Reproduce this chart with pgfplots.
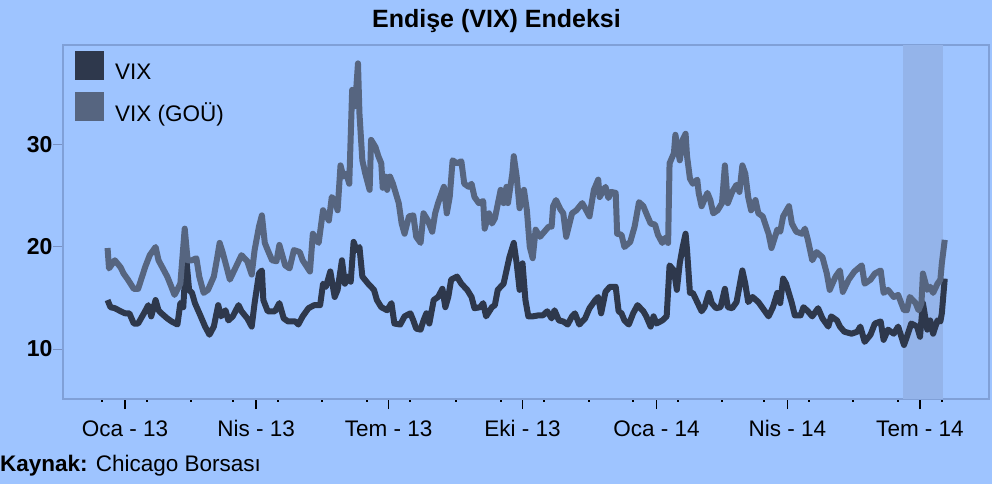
\documentclass[border=0pt]{standalone}
\usepackage{pgfplots}
\pgfplotsset{compat=1.18}
\usepackage{fontspec}
\setmainfont{Liberation Sans}
\definecolor{bgc}{RGB}{158,196,255}
\definecolor{bandc}{RGB}{148,180,234}
\definecolor{borderc}{RGB}{128,160,215}
\definecolor{ytickc}{RGB}{120,145,195}
\definecolor{vixdark}{RGB}{46,56,76}
\definecolor{vixgou}{RGB}{86,101,128}
\begin{document}
\begin{tikzpicture}
\fill[bgc] (0bp,0bp) rectangle (992bp,-484bp);
\node[anchor=base, inner sep=0pt, font=\fontsize{25bp}{29bp}\selectfont\bfseries] at (496.5bp,-27bp) {Endişe (VIX) Endeksi};
\node[anchor=base west, inner sep=0pt, font=\fontsize{22.5bp}{27bp}\selectfont] at (0bp,-471bp) {\textbf{Kaynak:}\hspace{0.36em}Chicago Borsası};
\begin{axis}[
  at={(63bp,-399bp)}, anchor=south west,
  width=926bp, height=354bp, scale only axis,
  xmin=-42.6, xmax=593.4, ymin=5.1, ymax=39.8,
  axis line style={draw=borderc, line width=1.2bp},
  tick align=outside,
  xtick={0,90,181,273,365,455,546},
  xticklabels={Oca - 13,Nis - 13,Tem - 13,Eki - 13,Oca - 14,Nis - 14,Tem - 14},
  minor xtick={-16,15,45,74,105,135,166,196,227,258,288,319,349,380,410,439,470,500,531,561},
  ytick={10,20,30},
  yticklabels={10,20,30},
  xtick pos=bottom, ytick pos=left,
  major tick length=10bp, minor tick length=2.5bp,
  every major x tick/.append style={black, line width=1.6bp},
  every minor x tick/.append style={black, line width=2bp},
  every major y tick/.append style={ytickc, line width=1bp},
  ticklabel style={font=\fontsize{22.5bp}{27bp}\selectfont},
  xticklabel style={yshift=-8bp},
  yticklabel style={font=\fontsize{23bp}{27bp}\selectfont\bfseries, xshift=3bp},
  legend image code/.code={\fill[#1, draw=none] (0bp,-8bp) rectangle (29bp,21bp);},
  legend style={at={(0,1)}, anchor=north west, xshift=9bp, yshift=-4bp, draw=none, fill=none,
    font=\fontsize{22.5bp}{27bp}\selectfont, row sep=9bp,
    /tikz/every odd column/.append style={column sep=9bp}},
  legend cell align=left,
]
\addplot[fill=bandc, draw=none, forget plot] coordinates {(534,5.1) (562,5.1) (562,39.8) (534,39.8)} -- cycle;
\addplot[color=vixdark, line width=6bp, line join=round] coordinates {
(-12,14.8)(-10,14.1)(-7,14.0)(-3,13.7)(0,13.5)(3,13.5)(6,12.5)(9,12.5)(13,13.5)(16,14.3)(18,13.2)(21,14.8)(23,13.8)(25,13.5)(29,13.0)(32,12.7)(36,12.4)(38,14.5)(40,14.1)(42,19.0)(44,15.8)(46,15.5)(48,14.5)(52,13.2)(55,12.2)(58,11.4)(61,12.2)(64,14.3)(66,13.2)(69,13.8)(71,12.8)(74,13.2)(78,14.3)(80,13.7)(84,13.0)(87,12.2)(89,14.5)(92,17.4)(94,17.7)(95,14.8)(98,13.7)(103,13.7)(106,14.5)(109,13.0)(112,12.7)(117,12.7)(119,12.4)(122,13.2)(126,14.0)(130,14.3)(134,14.3)(136,16.4)(138,16.1)(141,17.6)(144,15.1)(146,15.8)(149,18.7)(151,16.4)(153,17.1)(155,16.6)(157,20.5)(159,19.7)(161,20.0)(163,17.1)(167,16.4)(171,15.8)(173,14.8)(176,14.1)(180,13.8)(183,14.5)(185,12.5)(189,12.4)(192,13.2)(196,13.5)(198,12.8)(200,12.0)(203,11.9)(205,12.8)(207,13.5)(209,12.5)(212,14.8)(215,15.1)(218,15.9)(220,14.1)(222,15.1)(224,16.8)(228,17.1)(231,16.4)(235,15.8)(238,15.1)(240,14.0)(244,14.1)(246,14.5)(248,13.2)(252,14.1)(254,14.3)(256,15.8)(260,16.4)(262,17.7)(264,19.0)(267,20.4)(269,18.4)(271,15.8)(273,18.4)(275,14.8)(277,13.2)(280,13.2)(284,13.3)(287,13.3)(290,13.7)(293,13.0)(295,13.8)(298,12.8)(301,12.7)(304,12.4)(307,13.2)(309,13.5)(312,12.4)(316,13.0)(319,14.0)(323,14.8)(325,15.1)(327,13.5)(330,15.6)(333,16.1)(337,16.1)(339,13.7)(341,13.5)(343,12.8)(346,12.4)(349,13.5)(352,14.3)(356,13.7)(358,13.2)(361,12.2)(363,13.2)(365,12.5)(369,12.8)(372,13.2)(374,18.2)(377,17.7)(379,15.8)(381,18.4)(383,20.0)(385,21.3)(386,19.7)(388,15.5)(390,15.5)(393,14.6)(396,13.7)(398,14.1)(401,15.5)(403,14.5)(406,14.0)(409,14.1)(412,15.9)(414,14.1)(417,14.0)(420,14.6)(424,17.7)(426,16.4)(428,14.6)(431,15.1)(435,14.6)(438,14.0)(442,13.2)(445,14.1)(448,15.5)(450,14.5)(452,16.9)(454,16.4)(458,14.5)(460,13.3)(464,13.3)(466,14.1)(469,13.7)(472,13.2)(476,14.0)(479,13.0)(483,12.2)(485,13.2)(489,12.8)(491,12.2)(494,11.7)(499,11.5)(503,11.7)(505,12.2)(508,10.7)(512,11.4)(515,12.5)(519,12.7)(521,10.9)(524,11.9)(528,11.5)(531,12.2)(535,10.4)(537,11.2)(540,12.5)(544,12.2)(546,11.2)(548,14.5)(551,11.9)(553,12.8)(555,11.5)(558,12.8)(560,12.7)(561,13.5)(563,16.9)
};
\addlegendentry{VIX}
\addplot[color=vixgou, line width=6bp, line join=round] coordinates {
(-12,19.9)(-11,17.9)(-7,18.7)(-3,18.0)(-1,17.4)(2,16.8)(6,15.9)(9,15.9)(14,18.1)(17,19.2)(21,20.0)(23,18.7)(26,17.9)(29,17.1)(31,16.4)(34,15.3)(38,16.4)(41,21.8)(43,18.7)(46,18.7)(49,18.9)(51,17.1)(54,15.5)(57,15.8)(61,17.1)(63,18.7)(65,20.4)(67,19.5)(70,17.9)(72,16.8)(75,17.7)(80,19.2)(84,18.6)(87,17.3)(89,19.7)(92,22.0)(94,23.1)(96,20.4)(98,19.7)(101,18.7)(104,18.6)(106,20.2)(110,18.2)(113,17.9)(116,19.7)(120,19.5)(122,18.7)(127,17.6)(129,21.3)(133,20.4)(136,23.6)(140,22.6)(142,24.9)(144,24.6)(146,23.6)(148,28.0)(150,26.9)(152,27.2)(154,26.2)(156,35.4)(158,33.8)(160,38.0)(161,33.1)(163,28.5)(165,27.2)(168,25.6)(169,30.5)(172,29.8)(174,28.9)(176,28.2)(177,25.8)(179,26.9)(180,25.6)(182,26.9)(184,26.2)(188,24.3)(190,22.3)(192,21.3)(195,23.0)(198,23.1)(200,21.0)(203,20.4)(205,23.3)(208,22.6)(211,21.5)(213,23.3)(215,24.3)(219,25.9)(221,23.3)(223,24.9)(225,28.5)(228,28.2)(231,28.4)(233,26.2)(236,25.9)(238,26.2)(240,24.9)(243,24.3)(246,24.5)(247,21.8)(250,23.3)(252,22.3)(254,22.8)(258,25.6)(260,24.3)(262,25.9)(263,24.3)(266,27.2)(267,28.9)(269,26.9)(271,23.8)(274,25.6)(276,23.6)(278,20.0)(280,18.9)(282,21.7)(285,21.0)(288,21.5)(291,22.0)(293,22.0)(294,24.0)(296,24.6)(299,23.7)(301,23.3)(303,21.0)(307,23.3)(310,23.6)(314,24.3)(316,23.8)(319,23.0)(322,25.6)(325,26.6)(326,24.9)(330,25.9)(332,24.8)(334,25.4)(337,25.3)(338,21.3)(341,21.2)(343,20.0)(347,20.5)(350,22.0)(353,24.4)(356,24.0)(358,23.3)(361,22.3)(364,22.2)(366,21.2)(369,20.4)(371,20.9)(373,20.4)(374,28.2)(377,29.2)(378,31.0)(381,28.5)(383,30.5)(385,31.1)(386,28.9)(388,26.7)(390,26.2)(393,26.6)(394,25.3)(396,24.0)(400,25.3)(402,24.6)(404,23.3)(407,23.6)(410,24.3)(412,28.0)(414,24.3)(417,25.4)(420,26.1)(422,25.4)(424,28.0)(426,27.2)(428,24.9)(430,23.6)(433,24.6)(435,23.3)(438,23.0)(442,21.3)(444,19.9)(448,21.7)(450,21.5)(452,23.0)(456,24.0)(458,22.3)(461,21.5)(465,21.3)(467,21.8)(469,20.7)(472,18.7)(475,19.5)(479,19.0)(482,17.4)(484,15.8)(488,17.1)(491,17.7)(493,15.6)(497,16.8)(501,17.6)(506,18.2)(508,16.4)(512,16.8)(515,17.4)(519,17.7)(521,15.5)(524,15.8)(528,15.1)(531,15.3)(535,13.8)(537,13.8)(539,15.1)(543,14.5)(545,13.8)(547,14.5)(548,17.4)(551,15.8)(553,16.1)(555,15.5)(558,16.4)(560,16.8)(561,18.4)(563,20.7)
};
\addlegendentry{VIX (GOÜ)}
\end{axis}
\end{tikzpicture}
\end{document}
